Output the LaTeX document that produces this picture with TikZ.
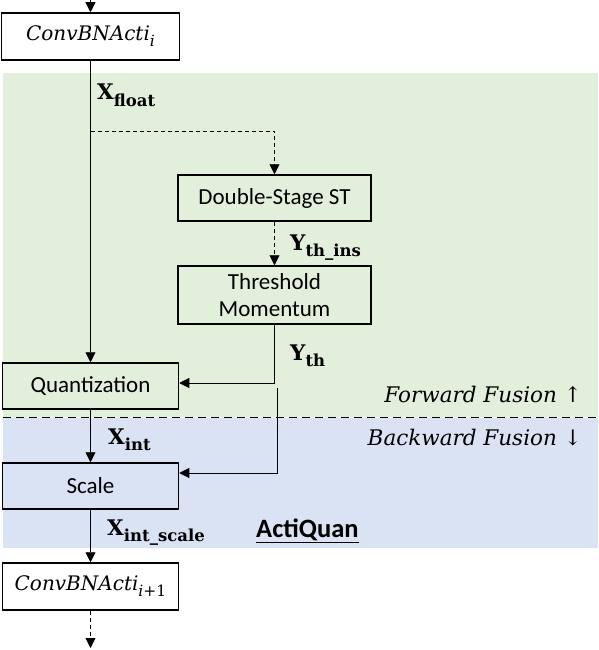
\documentclass[tikz,border=0pt]{standalone}
\usepackage{fontspec}
\newfontfamily\boxfont{Carlito}
\newfontfamily\symfont{DejaVu Serif}
\newfontfamily\labfont{DejaVu Serif}
\usetikzlibrary{arrows.meta}
\definecolor{fgreen}{HTML}{E2EFDA}
\definecolor{bblue}{HTML}{DAE3F3}
\newcommand\lowsub[1]{\raisebox{-0.3em}{\fontsize{16.5}{18}\selectfont #1}}
\newcommand\itsub[1]{\raisebox{-0.3em}{\fontsize{15.5}{18}\selectfont #1}}
\tikzset{
  box/.style={draw, line width=1.5pt, inner sep=0pt, align=center,
    font=\boxfont\fontsize{23}{27}\selectfont},
  itbox/.style={box, font=\labfont\itshape\fontsize{20}{24}\selectfont},
  arr/.style={line width=0.9pt, -{Triangle[length=10pt,width=10pt]}},
  dsh/.style={dash pattern=on 4pt off 3pt},
  lab/.style={anchor=base west, inner sep=0pt, font=\labfont\bfseries\fontsize{21.5}{26}\selectfont},
  fus/.style={anchor=base east, inner sep=0pt, font=\labfont\itshape\fontsize{21.5}{26}\selectfont}
}
\begin{document}
\begin{tikzpicture}[x=1pt,y=-1pt]
\useasboundingbox (0,0) rectangle (598,650);
% backgrounds
\fill[fgreen] (3,73) rectangle (598,417);
\fill[bblue] (3,418) rectangle (598,548);
\draw[line width=1.8pt, dash pattern=on 8pt off 5pt] (3,417.5) -- (598,417.5);
% nodes
\node[itbox, fill=white, minimum width=178pt, minimum height=47pt] (c1) at (90.5,36.5) {ConvBNActi\itsub{i}};
\node[box, fill=fgreen, minimum width=193pt, minimum height=46pt] (ds) at (274.5,198) {Double-Stage ST};
\node[box, fill=fgreen, minimum width=193pt, minimum height=58pt] (tm) at (274.5,295) {Threshold\\Momentum};
\node[box, fill=fgreen, minimum width=176pt, minimum height=46pt] (q) at (90.5,386) {Quantization};
\node[box, fill=bblue, minimum width=176pt, minimum height=46pt] (s) at (90.5,486) {Scale};
\node[itbox, fill=white, minimum width=176pt, minimum height=47pt] (c2) at (90.5,586.5) {ConvBNActi\itsub{i\upshape+1}};
% coordinates
\coordinate (top) at (90.5,0);
\coordinate (b1) at (90.5,131);
\coordinate (b2) at (277,388);
\coordinate (bot) at (90.5,648);
% connectors
\draw[arr] (top) -- (c1.north);
\draw[arr] (c1.south) -- (q.north);
\draw[arr, dsh] (b1) -| (ds.north);
\draw[arr, dsh] (ds.south) -- (tm.north);
\draw[arr] (tm.south) |- ([yshift=3pt]q.east);
\draw[arr] (b2) |- ([yshift=13pt]s.east);
\draw[arr] (q.south) -- (s.north);
\draw[arr] (s.south) -- (c2.north);
\draw[arr, dsh] (c2.south) -- (bot);
% labels
\node[lab] (lxf) at (97,100) {X\lowsub{float}};
\node[lab] (lyi) at (290,250) {Y\lowsub{th\_ins}};
\node[lab] (lyt) at (290,360) {Y\lowsub{th}};
\node[lab] (lxi) at (108,444) {X\lowsub{int}};
\node[lab] (lxs) at (107,535) {X\lowsub{int\_scale}};
\node[anchor=base west, inner sep=0pt, font=\boxfont\bfseries\fontsize{26.5}{30}\selectfont] (aq) at (256,537) {\underline{ActiQuan}};
\node[fus] (ff) at (582,402) {Forward Fusion {\upshape↑}};
\node[fus] (bf) at (582,445) {Backward Fusion {\upshape↓}};
\end{tikzpicture}
\end{document}
